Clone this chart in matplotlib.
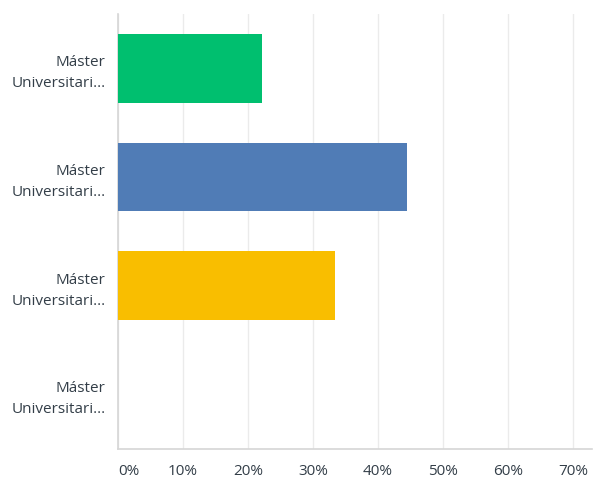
import matplotlib.pyplot as plt

categories = ["Máster\nUniversitari...", "Máster\nUniversitari...",
              "Máster\nUniversitari...", "Máster\nUniversitari..."]
values = [22.22, 44.44, 33.33, 0.0]
colors = ["#00bf6f", "#507cb6", "#f9be00", "#6bc8cd"]
ticks = [0, 10, 20, 30, 40, 50, 60, 70]
tick_labels = ["0%", "10%", "20%", "30%", "40%", "50%", "60%", "70%"]

plt.rcParams['font.family'] = ['Open Sans', 'DejaVu Sans']

fig = plt.figure(figsize=(5.94, 4.79), dpi=100)
ax = fig.add_axes([118/594, 1-448.5/479, 474/594, 434.5/479])

ypos = list(range(len(categories)))
ax.barh(ypos, values, height=0.63, color=colors, zorder=3)
ax.set_ylim(len(categories)-0.5, -0.5)
ax.set_xlim(0, 72.9)

ax.set_yticks(ypos)
ax.set_yticklabels(categories, fontsize=11, color="#333e48", linespacing=1.55)
ax.set_xticks(ticks)
ax.set_xticklabels(tick_labels, fontsize=11, color="#333e48")
ax.get_xticklabels()[0].set_horizontalalignment('left')
ax.tick_params(axis='y', length=0, pad=9)
ax.tick_params(axis='x', length=0, pad=11)

ax.grid(axis='x', color="#ebebeb", linewidth=1, zorder=0)
for s in ['top', 'right']:
    ax.spines[s].set_visible(False)
for s in ['left', 'bottom']:
    ax.spines[s].set_color("#d6d6d6")
    ax.spines[s].set_linewidth(1.2)

fig.savefig("out.png", dpi=100)
